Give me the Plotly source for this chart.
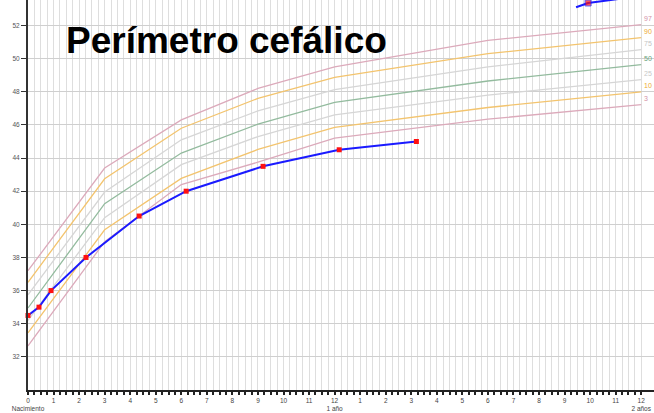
import plotly.graph_objects as go

# Percentile reference curves (months, cm)
months_p = [0, 3, 6, 9, 12, 18, 24]
p97 = [37.2, 43.4, 46.3, 48.2, 49.5, 51.1, 52.05]
p90 = [36.5, 42.75, 45.8, 47.6, 48.87, 50.3, 51.27]
p75 = [35.75, 41.95, 45.1, 46.85, 48.13, 49.5, 50.54]
p50 = [34.95, 41.25, 44.3, 46.05, 47.36, 48.65, 49.64]
p25 = [34.2, 40.4, 43.6, 45.3, 46.6, 47.8, 48.73]
p10 = [33.45, 39.67, 42.77, 44.52, 45.85, 47.05, 48.0]
p3 = [32.66, 38.95, 42.4, 43.75, 45.2, 46.35, 47.22]

# Patient measurements
months_pt = [0, 0.43, 0.9, 2.27, 4.35, 6.19, 9.2, 12.18, 15.2]
values_pt = [34.5, 35.0, 36.0, 38.0, 40.5, 42.0, 43.5, 44.5, 45.0]

# Fragment of another chart visible at the top edge
months_frag = [21.45, 21.92, 23.1]
values_frag = [53.1, 53.36, 53.6]

pct_labels = ["97", "90", "75", "50", "25", "10", "3"]
pct_series = [p97, p90, p75, p50, p25, p10, p3]
line_colors = ["#dcaabb", "#f3c46e", "#d6d6d6", "#93bb9e", "#d6d6d6", "#f3c46e", "#dcaabb"]
label_colors = ["#d391a7", "#eeaa30", "#c4c4c4", "#6aa27c", "#c8c8c8", "#eeaa30", "#d391a7"]

month_labels = [str(i) for i in range(13)] + [str(i) for i in range(1, 13)]
month_labels[0] = "0<br>Nacimiento"
month_labels[12] = "12<br>1 año"
month_labels[24] = "12<br>2 años"

L, R, T, B = 28, 0, 0, 23
W, H = 654, 413
PW, PH = W - L - R, H - T - B


def px_x(px):
    return (px - L) / PW


def px_y(py):
    return (H - B - py) / PH


fig = go.Figure()

for name, ys, col in zip(pct_labels, pct_series, line_colors):
    fig.add_trace(go.Scatter(x=months_p, y=ys, mode="lines", name=name,
                             line=dict(color=col, width=1.3), hoverinfo="skip"))

fig.add_trace(go.Scatter(x=months_pt, y=values_pt, mode="lines+markers",
                         line=dict(color="#1a1aff", width=2),
                         marker=dict(color="#ff1010", size=5, symbol="square"),
                         cliponaxis=False))
fig.add_trace(go.Scatter(x=months_frag, y=values_frag, mode="lines+markers",
                         line=dict(color="#1a1aff", width=2),
                         marker=dict(color="#ff1010", size=[0, 6, 0], symbol="square")))

tickvals = [i * 0.25 for i in range(97)]
ticktext = [month_labels[int(v)] if v == int(v) else "" for v in tickvals]

annotations = []
for name, ys, col in zip(pct_labels, pct_series, label_colors):
    annotations.append(dict(x=px_x(642), y=ys[-1], xref="paper", yref="y", text=name,
                            showarrow=False, xanchor="left", yanchor="middle", yshift=6,
                            font=dict(size=7, color=col, family="Liberation Sans")))
annotations.append(dict(x=px_x(64), y=px_y(41), xref="paper", yref="paper",
                        text="<b>Perímetro cefálico</b>",
                        showarrow=False, xanchor="left", yanchor="middle",
                        font=dict(size=37, color="black", family="Liberation Sans")))

fig.update_layout(
    width=W, height=H,
    margin=dict(l=L, r=R, t=T, b=B, autoexpand=False),
    paper_bgcolor="white", plot_bgcolor="white",
    showlegend=False,
    font=dict(family="Liberation Sans", color="#444"),
    annotations=annotations,
    xaxis=dict(range=[0, 24.5], tickmode="array", tickvals=tickvals, ticktext=ticktext,
               showgrid=True, gridcolor="#dedede", gridwidth=1.3,
               showline=True, linecolor="#222", linewidth=2,
               ticks="outside", ticklen=3, tickcolor="#222", tickwidth=1.5,
               tickfont=dict(size=6.5, color="#444"), zeroline=False, tickangle=0,
               automargin=False),
    yaxis=dict(range=[30, 53.54], tickvals=[32, 34, 36, 38, 40, 42, 44, 46, 48, 50, 52],
               showgrid=True, gridcolor="#cfcfcf", gridwidth=1,
               showline=True, linecolor="#333", linewidth=2,
               ticks="outside", ticklen=5, tickcolor="#333",
               tickfont=dict(size=6.5, color="#555"), zeroline=False,
               automargin=False),
)

fig.write_html("out.html", config={"displayModeBar": False},
               post_script="document.body.style.margin='0';document.body.style.overflow='hidden';")
